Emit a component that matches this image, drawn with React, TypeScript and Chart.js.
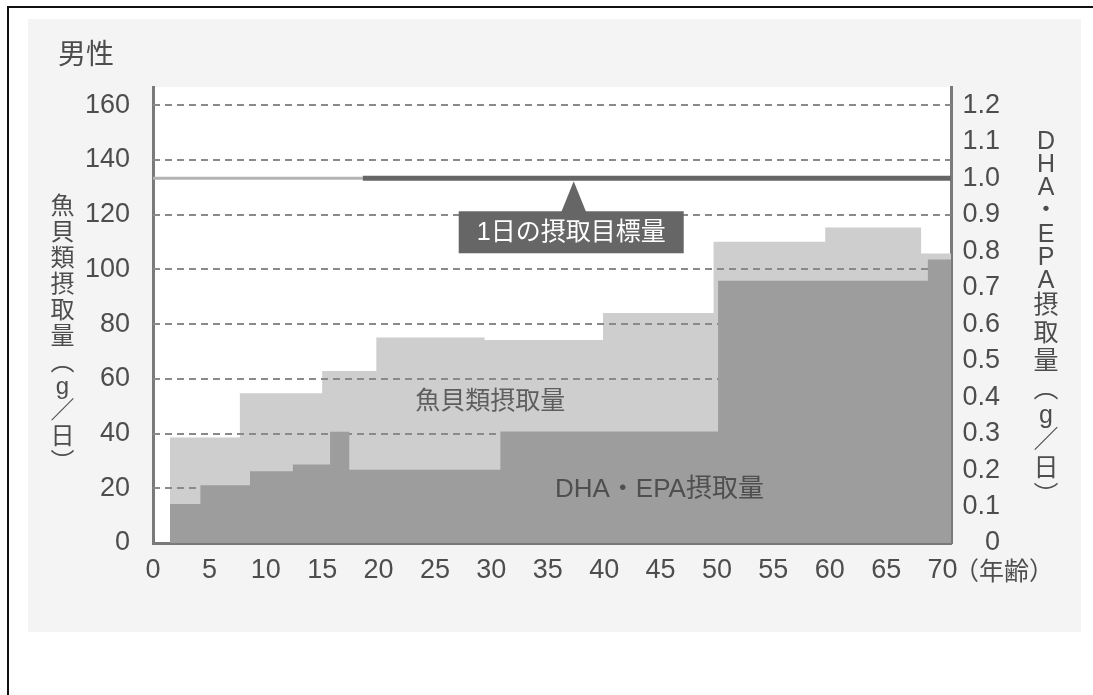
import React, { useEffect, useRef } from "react";
import { Chart, registerables } from "chart.js";

Chart.register(...registerables);

const W = 1093;
const H = 695;
const LATIN = '"Liberation Sans", "Noto Sans CJK JP", sans-serif';
const CJK = '"Noto Sans CJK JP", sans-serif';
const TEXT = "#4d4d4d";

// Texts
const chartTitle = "男性";
const fishSeriesLabel = "魚貝類摂取量";
const dhaSeriesLabel = "DHA・EPA摂取量";
const targetLabel = "1日の摂取目標量";
const ageUnit = "（年齢）";
const fishAxisTitle = ["魚", "貝", "類", "摂", "取", "量", "︵", "g", "／", "日", "︶"];
const dhaAxisTitle = ["D", "H", "A", "・", "E", "P", "A", "摂", "取", "量", "︵", "g", "／", "日", "︶"];

// 魚貝類摂取量 (g/日): age where each step begins, and its level
const fishAges = [1.5, 7.7, 15.0, 19.8, 29.4, 39.9, 49.7, 59.6, 68.1];
const fishGrams = [38.6, 54.7, 62.9, 75.1, 74.2, 84.1, 110.1, 115.3, 105.8];

// DHA・EPA摂取量 (g/日): age where each step begins, and its level
const dhaAges = [1.5, 4.2, 8.6, 12.4, 15.7, 17.4, 30.8, 50.1, 68.7];
const dhaGrams = [0.107, 0.158, 0.197, 0.215, 0.305, 0.201, 0.306, 0.719, 0.777];

// 1日の摂取目標量 (g/日)
const targetGrams = 1.0;
const targetFromAge = 18.6;
const calloutAge = 37.3;

// label anchors in data units
const fishLabelAt = { age: 29.9, grams: 52.3 };
const dhaLabelAt = { age: 44.9, grams: 0.145 };

// axes
const ageTicks = [0, 5, 10, 15, 20, 25, 30, 35, 40, 45, 50, 55, 60, 65, 70];
const fishTicks = [0, 20, 40, 60, 80, 100, 120, 140, 160];
const dhaTicks = [0, 0.1, 0.2, 0.3, 0.4, 0.5, 0.6, 0.7, 0.8, 0.9, 1.0, 1.1, 1.2];
const AGE_MAX = 70.75;
const FISH_MAX = 166.7;
const DHA_MAX = (FISH_MAX * 1.2) / 160;

function stepPoints(ages: number[], values: number[]) {
  const pts = ages.map((x, i) => ({ x, y: values[i] }));
  pts.push({ x: AGE_MAX, y: values[values.length - 1] });
  return pts;
}

function drawVertical(
  ctx: CanvasRenderingContext2D,
  chars: string[],
  x: number,
  yFirst: number,
  size: number,
  cjkPitch: number,
  latinPitch: number
) {
  ctx.font = `${size}px ${LATIN}`;
  ctx.textAlign = "center";
  ctx.textBaseline = "middle";
  let y = yFirst;
  let prev = 0;
  chars.forEach((ch, i) => {
    const adv = /[A-Za-z]/.test(ch) ? latinPitch : ch === "・" ? 24 : cjkPitch;
    if (i > 0) y += (prev + adv) / 2;
    ctx.fillText(ch, x, y);
    prev = adv;
  });
}

const decor = {
  id: "decor",
  beforeDraw(chart: any) {
    const { ctx, chartArea: a } = chart;
    ctx.save();
    ctx.fillStyle = "#ffffff";
    ctx.fillRect(a.left, a.top, a.right - a.left, a.bottom - a.top);
    ctx.restore();
  },
  afterDatasetDraw(chart: any, args: any) {
    // dashed grid sits above the fish area but below the DHA area
    if (args.index !== 0) return;
    const { ctx, chartArea: a } = chart;
    const ys = chart.scales.y;
    ctx.save();
    ctx.strokeStyle = "#8a8a8a";
    ctx.lineWidth = 2;
    ctx.setLineDash([7, 5]);
    fishTicks.forEach((v) => {
      if (v === 0) return;
      const y = Math.round(ys.getPixelForValue(v));
      ctx.beginPath();
      ctx.moveTo(a.left, y);
      ctx.lineTo(a.right, y);
      ctx.stroke();
    });
    ctx.restore();
  },
  afterDraw(chart: any) {
    const { ctx } = chart;
    const xs = chart.scales.x;
    const ys = chart.scales.y;
    const yr = chart.scales.y1;
    ctx.save();

    // callout below the target line
    const tipX = xs.getPixelForValue(calloutAge);
    const tipY = yr.getPixelForValue(targetGrams) + 3;
    const boxTop = tipY + 30;
    const boxH = 42;
    const boxW = 225;
    const boxL = tipX - 115;
    ctx.fillStyle = "#666666";
    ctx.beginPath();
    ctx.moveTo(tipX, tipY);
    ctx.lineTo(tipX + 12.5, boxTop + 1);
    ctx.lineTo(tipX - 12.5, boxTop + 1);
    ctx.closePath();
    ctx.fill();
    ctx.fillRect(boxL, boxTop, boxW, boxH);
    ctx.fillStyle = "#ffffff";
    ctx.font = `25px ${LATIN}`;
    ctx.textAlign = "center";
    ctx.textBaseline = "middle";
    ctx.fillText(targetLabel, boxL + boxW / 2, boxTop + boxH / 2 + 1);

    // series labels
    ctx.fillStyle = "#5e5e5e";
    ctx.font = `25px ${CJK}`;
    ctx.fillText(fishSeriesLabel, xs.getPixelForValue(fishLabelAt.age), ys.getPixelForValue(fishLabelAt.grams));
    ctx.fillStyle = "#4f4f4f";
    ctx.font = `26px ${LATIN}`;
    ctx.fillText(dhaSeriesLabel, xs.getPixelForValue(dhaLabelAt.age), yr.getPixelForValue(dhaLabelAt.grams));

    // title
    ctx.fillStyle = TEXT;
    ctx.font = `28px ${CJK}`;
    ctx.textAlign = "left";
    ctx.fillText(chartTitle, 58, 53);

    // age unit after the last tick
    ctx.font = `25px ${CJK}`;
    ctx.fillText(ageUnit, xs.right + 3, 570);

    // axis titles
    drawVertical(ctx, fishAxisTitle, 62.5, 207, 24, 26, 22);
    drawVertical(ctx, dhaAxisTitle, 1046, 141.7, 25, 28, 23);

    ctx.restore();
  },
};

export default function App() {
  const ref = useRef<HTMLCanvasElement>(null);

  useEffect(() => {
    if (!ref.current) return;
    const tickFont = { family: LATIN, size: 27 };
    const border = { display: true, color: "#7a7a7a", width: 3 };
    const chart = new Chart(ref.current, {
      type: "line",
      data: {
        datasets: [
          {
            label: fishSeriesLabel,
            data: stepPoints(fishAges, fishGrams),
            yAxisID: "y",
            stepped: "before",
            fill: "origin",
            backgroundColor: "#cecece",
            borderColor: "rgba(0,0,0,0)",
            borderWidth: 0,
            pointRadius: 0,
            order: 3,
          },
          {
            label: dhaSeriesLabel,
            data: stepPoints(dhaAges, dhaGrams),
            yAxisID: "y1",
            stepped: "before",
            fill: "origin",
            backgroundColor: "#9d9d9d",
            borderColor: "rgba(0,0,0,0)",
            borderWidth: 0,
            pointRadius: 0,
            order: 2,
          },
          {
            label: targetLabel,
            data: [
              { x: 0, y: targetGrams },
              { x: targetFromAge, y: targetGrams },
            ],
            yAxisID: "y1",
            borderColor: "#b3b3b3",
            borderWidth: 3,
            pointRadius: 0,
            fill: false,
            order: 1,
          },
          {
            label: targetLabel,
            data: [
              { x: targetFromAge, y: targetGrams },
              { x: AGE_MAX, y: targetGrams },
            ],
            yAxisID: "y1",
            borderColor: "#666666",
            borderWidth: 5,
            pointRadius: 0,
            fill: false,
            order: 0,
          },
        ],
      } as any,
      options: {
        animation: false,
        responsive: false,
        devicePixelRatio: 1,
        layout: { padding: { left: 28, right: 93, top: 87, bottom: 63 } },
        plugins: {
          legend: { display: false },
          tooltip: { enabled: false },
          title: { display: false },
        },
        scales: {
          x: {
            type: "linear",
            min: 0,
            max: AGE_MAX,
            afterBuildTicks: (s: any) => {
              s.ticks = ageTicks.map((value) => ({ value }));
            },
            afterFit: (s: any) => {
              s.height = 89;
            },
            grid: { display: false, drawTicks: false },
            border,
            ticks: {
              autoSkip: false,
              maxRotation: 0,
              padding: 11,
              color: TEXT,
              font: tickFont,
              callback: (v: any) => String(v),
            },
          },
          y: {
            type: "linear",
            position: "left",
            min: 0,
            max: FISH_MAX,
            afterBuildTicks: (s: any) => {
              s.ticks = fishTicks.map((value) => ({ value }));
            },
            afterFit: (s: any) => {
              s.width = 125;
            },
            grid: { display: false, drawTicks: false },
            border,
            ticks: {
              autoSkip: false,
              padding: 23,
              color: TEXT,
              font: tickFont,
              callback: (v: any) => String(v),
            },
          },
          y1: {
            type: "linear",
            position: "right",
            min: 0,
            max: DHA_MAX,
            afterBuildTicks: (s: any) => {
              s.ticks = dhaTicks.map((value) => ({ value }));
            },
            afterFit: (s: any) => {
              s.width = 49;
            },
            grid: { display: false, drawTicks: false },
            border,
            ticks: {
              autoSkip: false,
              crossAlign: "far",
              padding: 11,
              color: TEXT,
              font: tickFont,
              callback: (v: any) => (Number(v) === 0 ? "0" : Number(v).toFixed(1)),
            },
          },
        },
      } as any,
      plugins: [decor],
    });
    return () => chart.destroy();
  }, []);

  return (
    <div
      style={{
        position: "fixed",
        left: 0,
        top: 0,
        width: W,
        height: H,
        overflow: "hidden",
        background: "#ffffff",
      }}
    >
      <div
        style={{
          position: "absolute",
          left: 7,
          top: 6,
          width: W,
          height: H,
          borderLeft: "2px solid #111",
          borderTop: "2px solid #111",
        }}
      />
      <div
        style={{
          position: "absolute",
          left: 28,
          top: 19,
          width: 1053,
          height: 613,
          background: "#f4f4f4",
        }}
      />
      <canvas ref={ref} width={W} height={H} style={{ position: "absolute", left: 0, top: 0 }} />
    </div>
  );
}
